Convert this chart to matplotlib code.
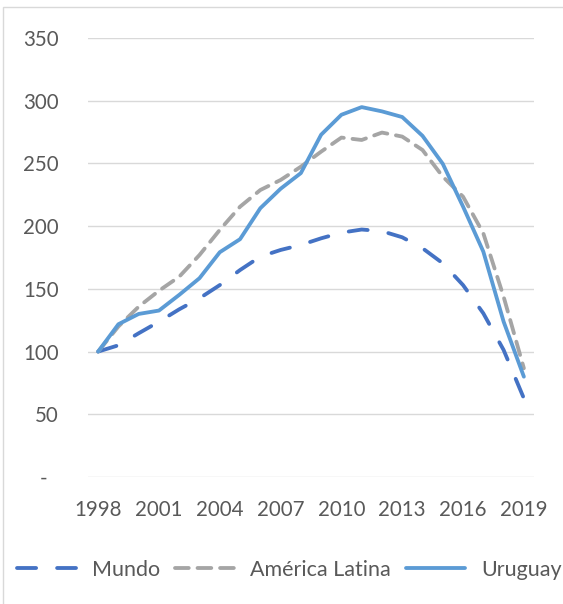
import matplotlib
matplotlib.use("Agg")
import matplotlib.pyplot as plt
from matplotlib.transforms import ScaledTranslation
from matplotlib.patches import Rectangle

# Índice (1998 = 100)
years = list(range(1998, 2020))
mundo = [100, 105, 114.6, 123.8, 133.7, 142.5, 153, 165, 175.7, 181, 185,
         190.3, 194.8, 197.3, 196, 191.1, 182.4, 170.4, 153, 130.5, 101.3, 62.7]
america_latina = [100, 120, 135.8, 148.5, 159.7, 177, 197, 215.5, 228.8, 236.8,
                  247.4, 259.4, 270.6, 268.7, 274.6, 271.4, 260.7, 239.5, 223.5,
                  194.3, 143.8, 86.7]
uruguay = [100, 121.8, 130, 132.7, 145.2, 158.5, 179.2, 189.6, 214.3, 229.8,
           242.3, 272.9, 288.8, 294.9, 291.5, 287, 272, 249.7, 215.6, 179.7,
           123.9, 80]
series_names = ["Mundo", "América Latina", "Uruguay"]
y_ticks = [0, 50, 100, 150, 200, 250, 300, 350]
y_tick_labels = ["-", "50", "100", "150", "200", "250", "300", "350"]

TEXT = "#595959"
GRID = "#D9D9D9"
plt.rcParams["font.family"] = ["Lato", "DejaVu Sans"]

W, H, DPI = 563, 604, 100
fig = plt.figure(figsize=(W / DPI, H / DPI), dpi=DPI)
fig.patch.set_facecolor("white")

# chart-area border (left and top edges visible)
fig.patches.append(Rectangle((2.5 / W, -0.1), 1.2, 1.1 - 7 / H,
                             transform=fig.transFigure, fill=False,
                             edgecolor=GRID, linewidth=1.0))

ax = fig.add_axes([88 / W, 1 - 477 / H, (534 - 88) / W, (477 - 38) / H])
x = list(range(len(years)))
lw = 2.75
ax.plot(x, mundo, color="#4472C4", lw=lw, dashes=(5.0, 5.5),
        dash_capstyle="round", solid_capstyle="round", label=series_names[0])
ax.plot(x, america_latina, color="#A5A5A5", lw=lw, dashes=(3.6, 2.3),
        dash_capstyle="round", label=series_names[1])
ax.plot(x, uruguay, color="#5B9BD5", lw=lw, solid_capstyle="round",
        solid_joinstyle="round", label=series_names[2])

ax.set_xlim(-0.5, len(years) - 0.5)
ax.set_ylim(0, 350)
ax.set_yticks(y_ticks)
ax.set_yticklabels(y_tick_labels)
ax.set_xticks(x[::3])
ax.set_xticklabels([str(y) for y in years[::3]])
ax.grid(axis="y", color=GRID, linewidth=1.0)
ax.set_axisbelow(True)
for s in ax.spines.values():
    s.set_visible(False)
ax.tick_params(axis="both", length=0, labelsize=14.8, labelcolor=TEXT)
ax.tick_params(axis="y", pad=21)
ax.tick_params(axis="x", pad=16.5)

# the zero label sits a little further left
zero_lbl = ax.get_yticklabels()[0]
zero_lbl.set_transform(zero_lbl.get_transform() +
                       ScaledTranslation(-11 / DPI, 0, fig.dpi_scale_trans))

fig.legend(loc="center left", bbox_to_anchor=(17 / W, 1 - 570 / H),
           ncol=3, frameon=False, fontsize=15.5, labelcolor=TEXT,
           handlelength=2.74, handletextpad=0.75, columnspacing=0.7,
           borderpad=0, borderaxespad=0)

fig.savefig("out.png", dpi=DPI, facecolor="white")
